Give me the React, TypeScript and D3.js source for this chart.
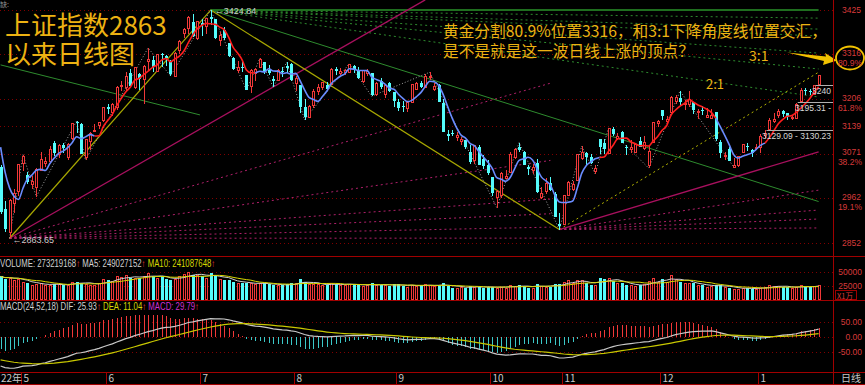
import * as d3 from 'd3';

const W = 865;
const H = 385;

// Shanghai Composite daily bars 2022-04-25 .. 2023-01-20: [open, high, low, close]
const ohlc: [number, number, number, number][] = [
  [3040, 3045, 2924, 2928], [2935, 2955, 2880, 2886], [2880, 2959, 2863.65, 2958], [2950, 2985, 2927, 2975], [2980, 3047, 2968, 3047],
  // May
  [3048, 3069, 3028, 3067], [3019, 3026, 2996, 3001], [2998, 3016, 2986, 3004], [2990, 3036, 2966, 3035], [3031, 3077, 3031, 3058],
  [3048, 3063, 3039, 3054], [3054, 3090, 3048, 3084], [3097, 3103, 3067, 3073], [3071, 3095, 3060, 3093], [3094, 3098, 3074, 3086],
  [3064, 3097, 3057, 3096], [3109, 3147, 3106, 3146], [3149, 3152, 3123, 3146], [3145, 3147, 3070, 3070], [3064, 3108, 3056, 3107],
  [3103, 3126, 3080, 3123], [3130, 3145, 3124, 3130], [3143, 3150, 3132, 3149], [3155, 3186, 3150, 3186],
  // June
  [3187, 3194, 3170, 3182], [3173, 3196, 3164, 3195], [3187, 3237, 3180, 3236], [3240, 3250, 3225, 3241], [3236, 3272, 3225, 3263],
  [3269, 3279, 3237, 3239], [3235, 3286, 3230, 3285], [3268, 3269, 3229, 3256], [3255, 3289, 3195, 3288], [3300, 3332, 3278, 3305],
  [3303, 3311, 3272, 3285], [3275, 3316, 3273, 3316], [3316, 3320, 3285, 3315], [3311, 3314, 3287, 3306], [3300, 3302, 3263, 3267],
  [3262, 3321, 3262, 3320], [3326, 3350, 3318, 3349], [3368, 3380, 3357, 3379], [3380, 3410, 3367, 3409], [3395, 3415, 3358, 3361],
  [3356, 3399, 3352, 3398],
  // July
  [3393, 3404, 3361, 3387], [3385, 3406, 3365, 3405], [3408, 3424.84, 3387, 3404], [3402, 3402, 3353, 3355], [3350, 3372, 3336, 3364],
  [3376, 3383, 3351, 3356], [3344, 3344, 3309, 3313], [3308, 3310, 3277, 3281], [3277, 3299, 3270, 3284], [3286, 3298, 3272, 3282],
  [3265, 3265, 3228, 3228], [3238, 3279, 3222, 3278], [3270, 3282, 3250, 3279], [3284, 3306, 3283, 3305], [3297, 3298, 3267, 3272],
  [3277, 3289, 3265, 3269], [3255, 3262, 3235, 3250], [3253, 3281, 3252, 3277], [3276, 3285, 3260, 3275], [3287, 3296, 3270, 3282],
  [3291, 3294, 3250, 3253],
  // August
  [3246, 3262, 3225, 3259], [3240, 3240, 3172, 3186], [3186, 3207, 3155, 3163], [3163, 3192, 3160, 3189], [3191, 3230, 3185, 3227],
  [3225, 3244, 3215, 3236], [3235, 3248, 3228, 3247], [3241, 3248, 3225, 3230], [3244, 3282, 3240, 3281], [3279, 3285, 3265, 3276],
  [3269, 3282, 3266, 3276], [3272, 3281, 3266, 3277], [3272, 3293, 3272, 3292], [3287, 3290, 3270, 3277], [3276, 3284, 3256, 3258],
  [3250, 3277, 3246, 3277], [3271, 3280, 3263, 3276], [3270, 3270, 3213, 3215], [3219, 3249, 3213, 3246], [3250, 3258, 3231, 3236],
  [3219, 3244, 3208, 3240], [3245, 3247, 3223, 3227], [3224, 3224, 3186, 3202],
  // September
  [3199, 3205, 3177, 3184], [3188, 3201, 3175, 3186], [3184, 3199, 3174, 3199], [3199, 3243, 3199, 3243], [3231, 3248, 3230, 3246],
  [3245, 3250, 3232, 3235], [3235, 3267, 3234, 3262], [3262, 3272, 3253, 3263], [3230, 3245, 3225, 3237], [3240, 3242, 3199, 3199],
  [3196, 3206, 3124, 3126], [3119, 3129, 3103, 3115], [3123, 3131, 3115, 3122], [3112, 3125, 3104, 3117], [3102, 3113, 3092, 3108],
  [3105, 3105, 3084, 3088], [3077, 3093, 3047, 3051], [3055, 3094, 3047, 3093], [3089, 3093, 3044, 3045], [3059, 3068, 3034, 3041],
  [3043, 3055, 3019, 3024],
  // October
  [3015, 3015, 2968, 2974], [2964, 2983, 2939, 2979], [2969, 3026, 2963, 3025], [3011, 3031, 3010, 3016], [3027, 3076, 3023, 3071],
  [3063, 3085, 3058, 3084], [3087, 3099, 3075, 3080], [3076, 3079, 3044, 3044], [3038, 3044, 3020, 3035], [3032, 3046, 3021, 3038],
  [3049, 3059, 2976, 2977], [2966, 2990, 2959, 2976], [2979, 3013, 2973, 2999], [3000, 3014, 2980, 2982], [2972, 2977, 2915, 2915],
  [2899, 2925, 2885.09, 2893],
  // November
  [2899, 2970, 2896, 2969], [2969, 3004, 2967, 3003], [2985, 3004, 2979, 2997], [3006, 3071, 3004, 3070], [3061, 3090, 3055, 3077],
  [3074, 3076, 3041, 3064], [3064, 3072, 3046, 3048], [3029, 3044, 3022, 3036], [3107, 3107, 3071, 3087], [3098, 3107, 3070, 3083],
  [3074, 3134, 3072, 3134], [3133, 3137, 3114, 3119], [3110, 3123, 3105, 3115], [3126, 3127, 3097, 3097], [3088, 3094, 3069, 3085],
  [3083, 3106, 3074, 3088], [3076, 3097, 3075, 3096], [3103, 3113, 3088, 3089], [3085, 3115, 3081, 3101], [3044, 3091, 3036, 3079],
  [3100, 3150, 3098, 3150], [3146, 3154, 3137, 3151],
  // December
  [3178, 3180, 3155, 3165], [3152, 3165, 3145, 3156], [3173, 3213, 3171, 3212], [3202, 3215, 3194, 3212], [3209, 3226, 3191, 3199],
  [3194, 3204, 3179, 3197], [3193, 3226, 3186, 3206], [3198, 3199, 3170, 3179], [3173, 3182, 3158, 3176], [3179, 3188, 3166, 3176],
  [3161, 3183, 3160, 3168], [3159, 3182, 3157, 3167], [3175, 3175, 3104, 3107], [3101, 3105, 3060, 3073], [3067, 3075, 3056, 3068],
  [3083, 3088, 3054, 3054], [3038, 3062, 3039, 3045], [3043, 3067, 3040, 3065], [3077, 3096, 3077, 3095], [3090, 3099, 3079, 3087],
  [3080, 3083, 3063, 3073], [3085, 3095, 3081, 3089],
  // January
  [3087, 3120, 3073, 3116], [3117, 3129.09, 3109, 3123], [3132, 3159, 3130.23, 3155], [3151, 3171, 3147, 3157], [3167, 3181, 3160, 3176],
  [3176, 3178, 3161, 3169], [3171, 3172, 3155, 3161], [3162, 3168, 3155, 3163], [3159, 3195.31, 3156, 3195], [3201, 3233, 3199.62, 3228],
  [3229, 3232, 3216, 3225], [3226, 3231, 3215, 3224], [3218, 3240.8, 3215, 3240], [3243, 3265, 3241.5, 3265],
];

// closes of 2022-04-19..22, only to start the 5-day average
const preCloses = [3194, 3151, 3079, 3087];

// volume, x1万 shares
const volumes = [
  42000, 38000, 40000, 36000, 38000,
  33000, 30000, 26000, 29000, 30000, 27000, 27000, 28000, 28000, 27000, 26000, 33000, 33000, 31000, 29000, 27000, 27000, 30000, 37000,
  36000, 34000, 42000, 41000, 44000, 40000, 40000, 40000, 43000, 48000, 42000, 40000, 42000, 38000, 36000, 37000, 42000, 47000, 50000, 45000, 44000,
  43000, 40000, 48000, 44000, 37000, 36000, 35000, 33000, 30000, 30000, 31000, 30000, 28000, 30000, 30000, 28000, 27000, 26000, 26000, 28000, 30000,
  30000, 37000, 33000, 28000, 28000, 28000, 27000, 26000, 30000, 29000, 27000, 27000, 29000, 28000, 27000, 25000, 26000, 30000, 27000, 27000, 27000, 25000, 28000,
  28000, 25000, 24000, 27000, 25000, 26000, 28000, 26000, 25000, 26000, 30000, 25000, 22000, 22000, 23000, 22000, 25000, 24000, 23000, 22000, 23000,
  24000, 22000, 24000, 22000, 26000, 25000, 26000, 25000, 22000, 22000, 29000, 25000, 24000, 24000, 28000, 28000,
  33000, 36000, 30000, 35000, 35000, 30000, 27000, 27000, 40000, 37000, 40000, 34000, 31000, 30000, 27000, 27000, 25000, 26000, 28000, 34000, 40000, 33000,
  38000, 32000, 45000, 37000, 33000, 31000, 30000, 30000, 26000, 26000, 24000, 25000, 26000, 27000, 23000, 22000, 20000, 19000, 22000, 22000, 20000, 20000,
  22000, 23000, 27000, 25000, 25000, 22500, 23000, 22000, 22500, 26000, 24000, 23000, 24200, 27322,
];

// first bar of each month on the date strip
const monthTicks: [number, string][] = [
  [5, '5'], [24, '6'], [45, '7'], [66, '8'], [89, '9'], [110, '10'], [126, '11'], [148, '12'], [170, '1'],
];

// right axis price marks
const priceTicks = [3425, 3316, 3206, 3139, 3071, 2962, 2852];
const fibLabels: [number, string][] = [[3316, '80.9%'], [3206, '61.8%'], [3071, '38.2%'], [2962, '19.1%']];

// header readings as printed by the software
const volHeader: [string, string][] = [
  ['VOLUME: 273219168', '#D0D0D0'], ['MA5: 249027152', '#D0D0D0'], ['MA10: 241087648', '#D8D800'],
];
const macdHeader: [string, string][] = [
  ['MACD(24,52,18) DIF: 25.93', '#D0D0D0'], ['DEA: 11.04', '#D8D800'], ['MACD: 29.79', '#D030D0'],
];

// colour of the 5-day line (bar index where each stretch ends)
const maStretches: [number, number, string][] = [
  [0, 21, 'blue'], [21, 57, 'red'], [57, 134, 'blue'], [134, 160, 'red'], [160, 171, 'blue'], [171, 183, 'red'],
];

// swing points joined by the grey zigzag
const zigzag: [number, 'h' | 'l'][] = [
  [2, 'l'], [5, 'h'], [8, 'l'], [17, 'h'], [19, 'l'], [33, 'h'], [38, 'l'], [47, 'h'], [55, 'l'], [58, 'h'], [61, 'l'],
  [64, 'h'], [68, 'l'], [78, 'h'], [83, 'l'], [96, 'h'], [111, 'l'], [116, 'h'], [125, 'l'], [130, 'h'], [133, 'l'],
  [136, 'h'], [145, 'l'], [152, 'h'], [164, 'l'],
];

// angle lines: [from bar, from price, to bar, to price]
const yellowLines = [[2, 2863.65, 47, 3424.84], [47, 3424.84, 125, 2885.09]];
const greenLines = [[47, 3424.84, 183, 2954], [0, 3290, 44.6, 3167]];
const magentaLines = [[2, 2863.65, 95, 3450], [125, 2885.09, 183, 3076]];
const peakFan = [3405, 3378, 3361, 3319, 3280, 3211]; // green dotted from the high, price at last bar
const lowFan = [3245, 3055, 2960, 2924, 2891, 2864]; // magenta dotted from the 2863 low, price at bar 123
const octFan = [2982, 2933, 2911, 2889]; // magenta dotted from the October low, price at last bar
const octRise = [125, 2885.09, 183, 3272]; // yellow dotted

// open gaps: [bar, upper edge, visible part of its label]
const gaps: [number, number, string][] = [
  [172, 3130.23, '3129.09 - 3130.23'], [179, 3199.62, '3195.31 -'], [183, 3241.5, '3240'],
];

const RED = '#F03838';
const CYAN = '#54FCFC';
const BORDER = '#A00000';
const GRID = '#800000';
const AXIS_TXT = '#D83A3A';
const GOLD = '#EDB212';
const SMALL = "'Liberation Sans', Arial, sans-serif";
const CJK = "'Noto Sans CJK SC', sans-serif";

const N = ohlc.length;
const PLOT_R = 833;

const x = d3.scaleLinear().domain([0, N - 1]).range([0.6, 818.6]);
const y = d3.scaleLinear().domain([2852, 3425]).range([243, 10]);
const yv = d3.scaleLinear().domain([0, 50000]).range([300, 272]);
const ym = d3.scaleLinear().domain([-50, 50]).range([352, 322]);

const closes = ohlc.map(d => d[3]);
const allCloses = [...preCloses, ...closes];
const ma5 = closes.map((_, i) => d3.mean(allCloses.slice(i, i + 5)) as number);

const movAvg = (arr: number[], n: number) =>
  arr.map((_, i) => d3.mean(arr.slice(Math.max(0, i - n + 1), i + 1)) as number);
const volMa5 = movAvg(volumes, 5);
const volMa10 = movAvg(volumes, 10);

// MACD(24,52,18), started from the state shown at the left edge
const macd = (() => {
  let e24 = 3120, e52 = 3212, dea = -74;
  return closes.map(c => {
    e24 += (2 / 25) * (c - e24);
    e52 += (2 / 53) * (c - e52);
    const dif = e24 - e52;
    dea += (2 / 19) * (dif - dea);
    return { dif, dea, bar: (dif - dea) * 2 };
  });
})();

const px = (i: number) => Math.round(x(i)) + 0.5;
const isFib = (p: number) => fibLabels.some(f => f[0] === p);

function Candles() {
  return (
    <g shapeRendering="crispEdges">
      {ohlc.map(([o, h, l, c], i) => {
        const up = c >= o;
        const col = up ? RED : CYAN;
        const cx = px(i);
        const top = Math.round(y(Math.max(o, c)));
        const bot = Math.round(y(Math.min(o, c)));
        return (
          <g key={i}>
            <line x1={cx} x2={cx} y1={y(h)} y2={top} stroke={col} />
            <line x1={cx} x2={cx} y1={bot} y2={y(l)} stroke={col} />
            {up ? (
              <rect x={cx - 1} y={top + 0.5} width={2} height={Math.max(bot - top, 1)} fill="#000" stroke={col} />
            ) : (
              <rect x={cx - 1.5} y={top} width={3} height={Math.max(bot - top, 1)} fill={col} />
            )}
          </g>
        );
      })}
    </g>
  );
}

function Line({ a, color, dash, width = 1 }: { a: number[]; color: string; dash?: string; width?: number }) {
  return <line x1={x(a[0])} y1={y(a[1])} x2={x(a[2])} y2={y(a[3])} stroke={color} strokeWidth={width} strokeDasharray={dash} />;
}

// one text line per header, each reading followed by a red arrow; squeezed like the terminal's narrow font
function Header({ items, yPos, squeeze }: { items: [string, string][]; yPos: number; squeeze: number }) {
  return (
    <g transform={`scale(${squeeze},1)`}>
      <text x={0} y={yPos} fontSize={10} fontFamily={SMALL}>
        {items.map(([s, c], k) => (
          <tspan key={s}>
            <tspan fill={c}>{(k ? '  ' : '') + s}</tspan>
            <tspan fill={RED}>↑</tspan>
          </tspan>
        ))}
      </text>
    </g>
  );
}

export default function App() {
  const maLine = d3.line<number>().x(i => x(i)).y(i => y(ma5[i])).curve(d3.curveMonotoneX);
  const zz = d3.line<[number, 'h' | 'l']>().x(d => x(d[0])).y(d => y(d[1] === 'h' ? ohlc[d[0]][1] : ohlc[d[0]][2]));
  const vLine = (arr: number[]) => d3.line<number>().x((_, i) => x(i)).y(v => yv(v))(arr) as string;
  const mLine = (key: 'dif' | 'dea') => d3.line<{ dif: number; dea: number }>().x((_, i) => x(i)).y(d => ym(d[key]))(macd) as string;

  return (
    <svg width={W} height={H} style={{ position: 'absolute', left: 0, top: 0, background: '#000' }}>
      <defs>
        <clipPath id="main"><rect x={0} y={0} width={PLOT_R} height={256} /></clipPath>
      </defs>
      <rect width={W} height={H} fill="#000" />

      {/* grid */}
      <g stroke={GRID} strokeDasharray="1,3" shapeRendering="crispEdges">
        {priceTicks.map(p => <line key={p} x1={0} x2={PLOT_R} y1={Math.round(y(p)) + 0.5} y2={Math.round(y(p)) + 0.5} />)}
        {[25000, 50000].map(v => <line key={v} x1={0} x2={PLOT_R} y1={Math.round(yv(v)) + 0.5} y2={Math.round(yv(v)) + 0.5} />)}
        {[-50, 0, 50].map(v => <line key={v} x1={0} x2={PLOT_R} y1={Math.round(ym(v)) + 0.5} y2={Math.round(ym(v)) + 0.5} />)}
      </g>

      <g clipPath="url(#main)">
        {/* angle lines */}
        {peakFan.map(p => <Line key={p} a={[47, 3424.84, 183, p]} color="#2E8B2E" dash="2,3" />)}
        {lowFan.map(p => <Line key={p} a={[2, 2863.65, 123, p]} color="#B0206A" dash="2,3" />)}
        {octFan.map(p => <Line key={p} a={[125, 2885.09, 183, p]} color="#B0206A" dash="2,3" />)}
        <Line a={octRise} color="#B4B400" dash="2,3" />
        <line x1={x(47)} x2={x(183)} y1={y(3425)} y2={y(3425)} stroke="#1F6E1F" strokeWidth={2} />
        {greenLines.map((a, k) => <Line key={k} a={a} color="#2E8B2E" />)}
        {magentaLines.map((a, k) => <Line key={k} a={a} color="#A8105E" width={1.3} />)}
        {yellowLines.map((a, k) => <Line key={k} a={a} color="#A8A800" width={1.2} />)}

        <path d={zz(zigzag) as string} fill="none" stroke="#A0A0A0" strokeDasharray="1,2" />

        <Candles />

        {maStretches.map(([f, t, c]) => (
          <path key={f} d={maLine(d3.range(f, t + 1)) as string} fill="none"
            stroke={c === 'red' ? '#FF1E1E' : '#6A8CFF'} strokeWidth={1.6} />
        ))}

        {/* open gaps */}
        {gaps.map(([i, hi, s]) => (
          <g key={i}>
            <line x1={x(i) - 3} x2={PLOT_R} y1={Math.round(y(hi)) + 0.5} y2={Math.round(y(hi)) + 0.5} stroke="#B0B0B0" />
            <text x={PLOT_R - 2} y={y(hi) + 9} fill="#D8D8D8" fontSize={8.5} fontFamily={SMALL} textAnchor="end">{s}</text>
          </g>
        ))}

        <text x={x(47) + 4} y={14} fill="#C8C8C8" fontSize={9} fontFamily={SMALL}>{'←3424.84'}</text>
        <text x={x(2) + 3} y={y(2863.65) + 5} fill="#C8C8C8" fontSize={9} fontFamily={SMALL}>{'←2863.65'}</text>
      </g>

      {/* notes: panel tag and the two-line title */}
      <text fontFamily={CJK}>
        <tspan x={0} y={6.5} fill="#909090" fontSize={7}>缺:</tspan>
        <tspan x={5} y={35} fill={GOLD} fontSize={26}>上证指数2863</tspan>
        <tspan x={5} y={64} fill={GOLD} fontSize={26}>以来日线图</tspan>
      </text>
      <text x={443} y={37} fill={GOLD} fontSize={15.7} fontFamily={CJK}>黄金分割80.9%位置3316，和3:1下降角度线位置交汇，</text>
      <text x={443} y={57} fill={GOLD} fontSize={15.7} fontFamily={CJK}>是不是就是这一波日线上涨的顶点？</text>
      <text x={749} y={61} fill={GOLD} fontSize={14} fontFamily={CJK}>3:1</text>
      <text x={706} y={89} fill={GOLD} fontSize={13} fontFamily={CJK}>2:1</text>
      <path d="M787,52.5 L826,56.5 L825,53 L837,60.5 L823,65 L824,61 Z" fill="#F2C200" />
      <ellipse cx={850} cy={58} rx={14} ry={11.5} fill="none" stroke="#F2C200" strokeWidth={1.8} />

      {/* volume panel */}
      <g shapeRendering="crispEdges">
        {volumes.map((v, i) => {
          const up = ohlc[i][3] >= ohlc[i][0];
          const cx = px(i);
          const top = Math.round(yv(v));
          return up ? (
            <rect key={i} x={cx - 1} y={top + 0.5} width={2} height={300 - top - 1} fill="#000" stroke={RED} />
          ) : (
            <rect key={i} x={cx - 1.5} y={top} width={3} height={300 - top} fill={CYAN} />
          );
        })}
      </g>
      <path d={vLine(volMa5)} fill="none" stroke="#D0D0D0" />
      <path d={vLine(volMa10)} fill="none" stroke="#D8D800" />

      {/* MACD panel */}
      <g shapeRendering="crispEdges">
        {macd.map((d, i) => (
          <line key={i} x1={px(i)} x2={px(i)} y1={ym(0)} y2={ym(d.bar)} stroke={d.bar >= 0 ? RED : '#3CC8C8'} />
        ))}
      </g>
      <path d={mLine('dif')} fill="none" stroke="#C8C8C8" strokeWidth={1.2} />
      <path d={mLine('dea')} fill="none" stroke="#C8C800" strokeWidth={1.2} />

      <Header items={volHeader} yPos={267} squeeze={0.78} />
      <Header items={macdHeader} yPos={310} squeeze={0.78} />

      {/* frame */}
      <g stroke={BORDER} shapeRendering="crispEdges">
        <line x1={0} x2={W} y1={256.5} y2={256.5} />
        <line x1={0} x2={W} y1={300.5} y2={300.5} />
        <line x1={0} x2={W} y1={372.5} y2={372.5} />
        <line x1={0} x2={W} y1={384.5} y2={384.5} />
        <line x1={PLOT_R + 0.5} x2={PLOT_R + 0.5} y1={0} y2={H} />
        <rect x={835.5} y={290.5} width={21} height={9} fill="none" />
        {monthTicks.map(([i]) => <line key={i} x1={px(i) - 2} x2={px(i) - 2} y1={372} y2={384} />)}
      </g>

      {/* right axis */}
      <g fontFamily={SMALL} fontSize={8.5} fill={AXIS_TXT} textAnchor="end">
        {priceTicks.map(p => <text key={p} x={861} y={y(p) + (isFib(p) ? 1.5 : 3)}>{p}</text>)}
        {fibLabels.map(([p, s]) => <text key={s} x={862} y={y(p) + 11.5}>{s}</text>)}
        {[50000, 25000].map(v => <text key={v} x={862} y={yv(v) + 2.5}>{v}</text>)}
        {[50, 0, -50].map(v => <text key={v} x={862} y={ym(v) + 3}>{v.toFixed(2)}</text>)}
      </g>
      <text x={837} y={299.2} fontSize={7.5} fontFamily={CJK} fill={AXIS_TXT}>X1万</text>

      {/* date strip */}
      <g fontFamily={CJK} fontSize={10} fill="#C8C8C8">
        <text x={1} y={382}>22年</text>
        {monthTicks.map(([i, s]) => <text key={i} x={px(i)} y={382}>{s}</text>)}
        <text x={841} y={382}>日线</text>
      </g>
    </svg>
  );
}
